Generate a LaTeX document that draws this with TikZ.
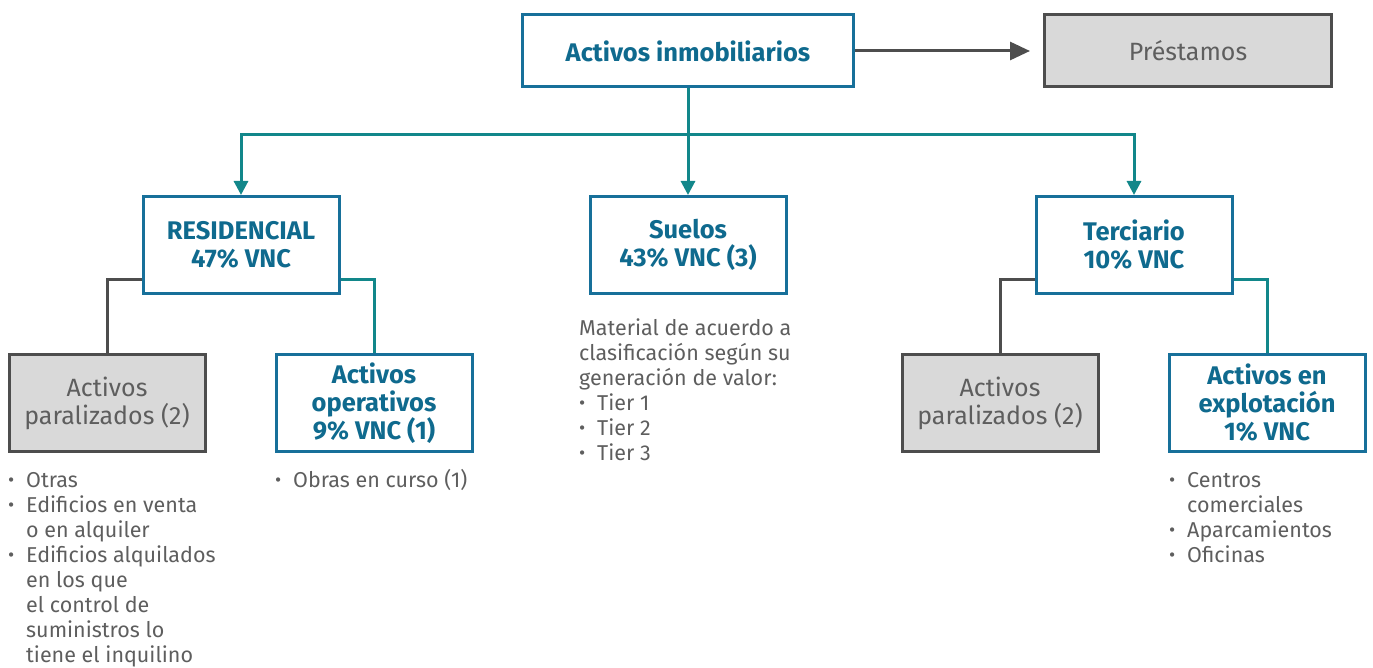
\documentclass[tikz,border=0pt]{standalone}
\usepackage{fontspec}
\setmainfont{Fira Sans}
\usetikzlibrary{arrows.meta}
\definecolor{boxblue}{HTML}{17709A}
\definecolor{txtblue}{HTML}{0F6A8E}
\definecolor{tealc}{HTML}{12878A}
\definecolor{dgray}{HTML}{4D4D4D}
\definecolor{lgray}{HTML}{D9D9D9}
\definecolor{tgray}{HTML}{5E5E5E}
\newcommand{\bfnt}{\fontsize{25.5}{28}\selectfont\bfseries}
\newcommand{\lfnt}{\fontsize{25}{28}\selectfont}
\newcommand{\listfnt}{\fontsize{21.5}{25}\selectfont}
\newcommand{\bul}{\raisebox{0.5pt}{\fontsize{19}{19}\selectfont •}}
\tikzset{
  bluebox/.style={draw=boxblue, line width=3pt, fill=white, minimum width=196pt, minimum height=97pt, align=center, text=txtblue, font=\bfnt, inner sep=0pt},
  graybox/.style={draw=dgray, line width=3pt, fill=lgray, minimum width=196pt, minimum height=97pt, align=center, text=tgray, font=\lfnt, inner sep=0pt},
  tline/.style={draw=tealc, line width=3pt},
  gline/.style={draw=dgray, line width=3pt},
  tarrow/.style={tline, -{Triangle[width=14pt,length=14pt]}},
  garrow/.style={gline, -{Triangle[width=18pt,length=20pt]}},
  listtxt/.style={anchor=base west, inner sep=0pt, text=tgray, font=\listfnt, align=left}
}
\begin{document}
\begin{tikzpicture}[x=1pt, y=-1pt]
\useasboundingbox (0,0) rectangle (1373,668);
% top level
\node[bluebox, minimum width=331pt, minimum height=72pt] (top) at (688,51) {Activos inmobiliarios};
\node[graybox, minimum width=287pt, minimum height=72pt] (pre) at (1188,51) {Préstamos};
\draw[garrow, shorten >=13pt] (top.east) -- (pre.west);
% second level
\node[bluebox] (res) at (241,245) {RESIDENCIAL\\47\% VNC};
\node[bluebox] (sue) at (688,245) {Suelos\\43\% VNC (3)};
\node[bluebox] (ter) at (1134,245) {Terciario\\10\% VNC};
\coordinate (hub) at (688,135);
\draw[tline] (top.south) -- (hub);
\draw[tarrow] (hub) -| (res.north);
\draw[tarrow] (hub) -- (sue.north);
\draw[tarrow] (hub) -| (ter.north);
% third level
\node[graybox] (par1) at (107,403) {Activos\\paralizados (2)};
\node[bluebox] (ope) at (374,403) {Activos\\operativos\\9\% VNC (1)};
\node[graybox] (par2) at (1000,403) {Activos\\paralizados (2)};
\node[bluebox] (exp) at (1267,403) {Activos en\\explotación\\1\% VNC};
\draw[gline] ([yshift=15pt]res.south west) -| (par1.north);
\draw[tline] ([yshift=15pt]res.south east) -| (ope.north);
\draw[gline] ([yshift=15pt]ter.south west) -| (par2.north);
\draw[tline] ([yshift=15pt]ter.south east) -| (exp.north);
% lists
\node[listtxt] (l1) at (8,487) {\begin{tabular}[t]{@{}p{18pt}@{}l@{}}
\bul & Otras\\
\bul & Edificios en venta\\
 & o en alquiler\\
\bul & Edificios alquilados\\
 & en los que\\
 & el control de\\
 & suministros lo\\
 & tiene el inquilino
\end{tabular}};
\node[listtxt] (l2) at (275,487) {\begin{tabular}[t]{@{}p{18pt}@{}l@{}}
\bul & Obras en curso (1)
\end{tabular}};
\node[listtxt] (l3) at (579,335) {\begin{tabular}[t]{@{}p{18pt}@{}l@{}}
\multicolumn{2}{@{}l@{}}{Material de acuerdo a}\\
\multicolumn{2}{@{}l@{}}{clasificación según su}\\
\multicolumn{2}{@{}l@{}}{generación de valor:}\\
\bul & Tier 1\\
\bul & Tier 2\\
\bul & Tier 3
\end{tabular}};
\node[listtxt] (l4) at (1169,487) {\begin{tabular}[t]{@{}p{18pt}@{}l@{}}
\bul & Centros\\
 & comerciales\\
\bul & Aparcamientos\\
\bul & Oficinas
\end{tabular}};
\end{tikzpicture}
\end{document}
